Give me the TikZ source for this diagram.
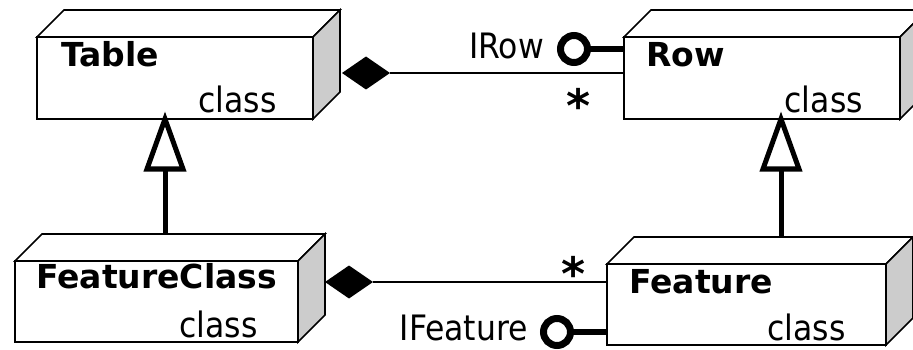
\documentclass[tikz,border=0pt]{standalone}
\usepackage{fontspec}
\setmainfont{DejaVu Sans}
\newfontfamily\narrowfont{DejaVu Sans Condensed}
\usetikzlibrary{shapes.geometric}

\tikzset{
  frontface/.style={draw, line width=1.6pt, fill=white, inner sep=0pt, outer sep=0pt, anchor=north west},
  edge3d/.style={draw, line width=1.6pt, line join=miter},
  titletext/.style={font=\fontsize{33}{40}\selectfont\bfseries, inner sep=0pt, anchor=base west},
  kindtext/.style={font=\fontsize{35}{42}\narrowfont, inner sep=0pt, anchor=base east},
  assoc/.style={line width=1.6pt},
  aggdiamond/.style={shape=diamond, fill=black, inner sep=0pt, minimum width=48pt, minimum height=33pt, outer sep=0pt},
  genline/.style={line width=5pt},
  gentri/.style={line width=5pt, line join=miter, fill=white},
  lolly/.style={circle, draw, line width=7pt, fill=white, minimum size=27pt, inner sep=0pt, outer sep=0pt},
  lollyline/.style={line width=6pt},
  multtext/.style={font=\fontsize{46}{56}\selectfont\bfseries, inner sep=0pt, anchor=base},
  ifacetext/.style={font=\fontsize{35}{42}\narrowfont, inner sep=0pt, anchor=base east}
}

% top and side faces of a class box, depth #2
\newcommand\boxdepth[2]{%
  \draw[edge3d, fill=white] (#1.north west) -- ++(#2,-#2)
    -- ([shift={(#2,-#2)}]#1.north east) -- (#1.north east) -- cycle;
  \draw[edge3d, fill=black!20] (#1.north east) -- ([shift={(#2,-#2)}]#1.north east)
    -- ([shift={(#2,-#2)}]#1.south east) -- (#1.south east) -- cycle;
}

\begin{document}
\begin{tikzpicture}[x=1pt, y=-1pt]
  \useasboundingbox (0,0) rectangle (913,350);
  \clip (0,0) rectangle (913,350);

  % class boxes
  \node[frontface, minimum width=276pt, minimum height=82pt] (table) at (37,37) {};
  \boxdepth{table}{27}
  \node[frontface, minimum width=276pt, minimum height=82pt] (row) at (624,37) {};
  \boxdepth{row}{27}
  \node[frontface, minimum width=283pt, minimum height=81pt] (fclass) at (15,261) {};
  \boxdepth{fclass}{27}
  \node[frontface, minimum width=279pt, minimum height=81pt] (feature) at (607,264) {};
  \boxdepth{feature}{27}

  % names and stereotypes
  \node[titletext] (tableName) at ([shift={(24,30)}]table.north west) {Table};
  \node[kindtext] (tableKind) at ([shift={(-36,-6)}]table.south east) {class};
  \node[titletext] (rowName) at ([shift={(22,30)}]row.north west) {Row};
  \node[kindtext] (rowKind) at ([shift={(-37,-6)}]row.south east) {class};
  \node[titletext] (fclassName) at ([shift={(21,27)}]fclass.north west) {FeatureClass};
  \node[kindtext] (fclassKind) at ([shift={(-40,-5)}]fclass.south east) {class};
  \node[titletext] (featureName) at ([shift={(22,29)}]feature.north west) {Feature};
  \node[kindtext] (featureKind) at ([shift={(-40,-5)}]feature.south east) {class};

  % composition Table <>-- Row
  \node[aggdiamond] (dTable) at (366,73) {};
  \draw[assoc] (dTable.east) -- (dTable.east -| row.west);
  \node[multtext] (mRow) at (579,123) {*};

  % composition FeatureClass <>-- Feature
  \node[aggdiamond] (dFclass) at (349,282) {};
  \draw[assoc] (dFclass.east) -- (dFclass.east -| feature.west);
  \node[multtext] (mFeature) at (574,290) {*};

  % generalisation FeatureClass --|> Table
  \coordinate (tTable) at ([xshift=-10pt]table.south);
  \draw[gentri] (tTable) -- ++(-18,50) -- ++(36,0) -- cycle;
  \coordinate (gFclass) at (tTable |- 0,234);
  \draw[genline] ([yshift=-50pt]tTable) -- (gFclass);

  % generalisation Feature --|> Row
  \coordinate (tRow) at ([xshift=19pt]row.south);
  \draw[gentri] (tRow) -- ++(-18,50) -- ++(36,0) -- cycle;
  \coordinate (gFeature) at (tRow |- 0,237);
  \draw[genline] ([yshift=-50pt]tRow) -- (gFeature);

  % interface lollipops
  \node[lolly] (iRow) at (574,49) {};
  \draw[lollyline] (iRow.east) -- (iRow.east -| row.west);
  \node[ifacetext] (iRowLabel) at (544,59) {IRow};

  \node[lolly] (iFeature) at (557,332) {};
  \draw[lollyline] (iFeature.east) -- (iFeature.east -| feature.west);
  \node[ifacetext] (iFeatureLabel) at (528,340) {IFeature};
\end{tikzpicture}
\end{document}
